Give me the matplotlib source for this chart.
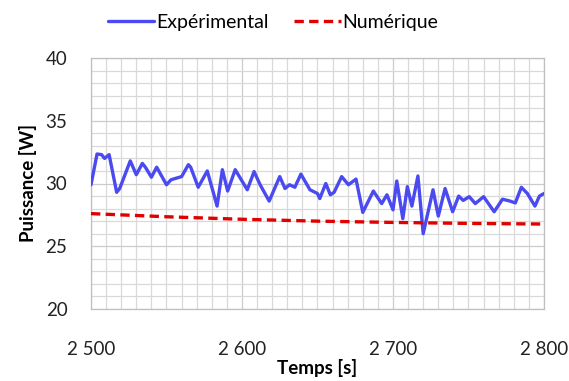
import matplotlib
matplotlib.use("Agg")
import matplotlib.pyplot as plt
from matplotlib.ticker import MultipleLocator, FuncFormatter

plt.rcParams['font.family'] = ['Lato', 'DejaVu Sans']

# Experimental series (time [s], power [W])
exp_t = [2500, 2504, 2507, 2509, 2512, 2517, 2519, 2526, 2530, 2534, 2536, 2540,
         2543.5, 2550, 2553, 2560, 2564.5, 2566, 2571, 2577, 2583.5, 2587, 2590.5,
         2595.5, 2598.5, 2603.5, 2608, 2612, 2618, 2625, 2628.5, 2631.5, 2635, 2639,
         2645, 2650, 2651.5, 2655.5, 2658.5, 2661, 2666, 2670.5, 2675.5, 2680, 2687,
         2692.5, 2696, 2700, 2702.5, 2706.5, 2709.5, 2712.5, 2716.5, 2720, 2726.5,
         2730, 2734.5, 2739.5, 2743.5, 2746.5, 2750.5, 2754.5, 2760, 2767, 2772.5,
         2777.5, 2781, 2785, 2789, 2794, 2797, 2800]
exp_p = [29.9, 32.35, 32.3, 32.0, 32.3, 29.3, 29.6, 31.8, 30.7, 31.6, 31.3, 30.5,
         31.3, 29.9, 30.3, 30.55, 31.5, 31.3, 29.7, 31.0, 28.2, 31.1, 29.4,
         31.1, 30.5, 29.5, 30.95, 29.9, 28.6, 30.55, 29.6, 29.9, 29.7, 30.75,
         29.5, 29.2, 28.8, 30.0, 29.1, 29.3, 30.55, 29.9, 30.35, 27.7, 29.4,
         28.4, 29.1, 27.9, 30.2, 27.2, 29.75, 28.2, 30.6, 26.0, 29.5,
         27.4, 29.6, 27.75, 29.0, 28.65, 28.95, 28.4, 28.95, 27.75, 28.75,
         28.6, 28.45, 29.7, 29.2, 28.2, 29.0, 29.2]

# Numerical series
num_t = [2500, 2550, 2600, 2650, 2700, 2750, 2800]
num_p = [27.6, 27.35, 27.15, 27.0, 26.9, 26.82, 26.77]

x_ticks = [2500, 2600, 2700, 2800]
y_ticks = [20, 25, 30, 35, 40]

fig = plt.figure(figsize=(5.69, 3.81), dpi=100)
ax = fig.add_axes([91/569, 1 - 309/381, (544-91)/569, (309-58)/381])

ax.plot(exp_t, exp_p, color='#4a4af0', lw=2.4, solid_joinstyle='round',
        solid_capstyle='round', label='Expérimental', zorder=3)
ax.plot(num_t, num_p, color='#e00000', lw=2.4, ls=(0, (2.8, 1.6)),
        label='Numérique', zorder=3)

ax.set_xlim(2500, 2800)
ax.set_ylim(20, 40)
ax.set_xticks(x_ticks)
ax.set_yticks(y_ticks)
ax.xaxis.set_minor_locator(MultipleLocator(10))
ax.yaxis.set_minor_locator(MultipleLocator(1))
ax.xaxis.set_major_formatter(FuncFormatter(lambda v, p: f"{int(v):,}".replace(",", " ")))

ax.grid(which='minor', color='#d9d9d9', lw=0.9)
ax.grid(which='major', color='#cbcbcb', lw=0.9)
ax.set_axisbelow(True)
for s in ax.spines.values():
    s.set_color('#bfbfbf')
    s.set_linewidth(0.9)

ax.tick_params(which='both', length=0)
ax.tick_params(axis='x', labelsize=13.5, pad=23, colors='#222222')
ax.tick_params(axis='y', labelsize=13.5, pad=17, colors='#222222')

ax.set_xlabel('Temps [s]', fontsize=13.5, fontweight='bold', labelpad=1)
ax.set_ylabel('Puissance [W]', fontsize=13.5, fontweight='bold', labelpad=6)

fig.legend(loc='upper center', bbox_to_anchor=(0.48, 1.01), ncol=2, frameon=False,
           fontsize=14, handlelength=2.4, handletextpad=0.1, columnspacing=1.3)

fig.savefig('out.png', dpi=100)
